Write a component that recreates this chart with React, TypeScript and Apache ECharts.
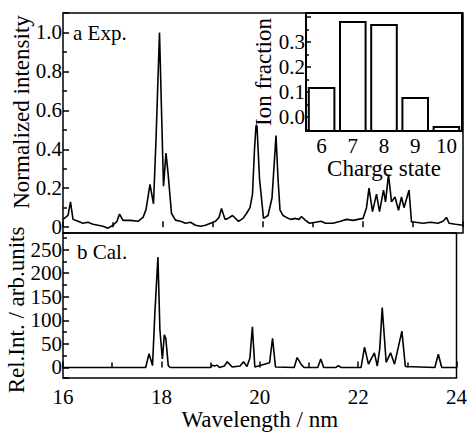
import React, { useEffect, useRef } from "react";
import * as echarts from "echarts";

// ---- data ----
const expWavelength = [
  16.0, 16.05, 16.1, 16.15, 16.2, 16.3, 16.4, 16.5, 16.6, 16.7, 16.8, 16.9, 17.0, 17.08, 17.13, 17.2,
  17.35, 17.5, 17.6, 17.66, 17.74, 17.81, 17.86, 17.93, 17.97, 18.01, 18.06, 18.1, 18.17, 18.25, 18.35,
  18.45, 18.55, 18.65, 18.75, 18.85, 18.95, 19.05, 19.12, 19.17, 19.24, 19.3, 19.39, 19.51, 19.6, 19.67,
  19.74, 19.79, 19.83, 19.86, 19.88, 19.93, 20.01, 20.1, 20.18, 20.26, 20.3, 20.34, 20.4, 20.47, 20.55,
  20.65, 20.72, 20.77, 20.85, 20.93, 21.05, 21.16, 21.25, 21.4, 21.55, 21.67, 21.8, 21.9, 22.0, 22.07,
  22.12, 22.19, 22.27, 22.33, 22.41, 22.45, 22.51, 22.57, 22.64, 22.71, 22.77, 22.82, 22.92, 22.97,
  23.05, 23.2, 23.35, 23.5, 23.6, 23.67, 23.72, 23.85, 24.0,
];
const expIntensity = [
  0.04, 0.05, 0.06, 0.13, 0.04, 0.03, 0.02, 0.025, 0.015, 0.01, 0.005, -0.005, 0.01, 0.03, 0.067, 0.035,
  0.035, 0.03, 0.05, 0.09, 0.22, 0.12, 0.45, 1.0, 0.6, 0.21, 0.38, 0.28, 0.07, 0.036, 0.03,
  0.02, 0.025, 0.01, 0.005, 0.01, 0.02, 0.03, 0.05, 0.096, 0.04, 0.045, 0.06, 0.03, 0.045, 0.07,
  0.1, 0.17, 0.4, 0.52, 0.52, 0.25, 0.045, 0.06, 0.15, 0.47, 0.25, 0.087, 0.06, 0.05, 0.04,
  0.045, 0.04, 0.055, 0.035, 0.02, 0.025, 0.03, 0.02, 0.02, 0.03, 0.04, 0.035, 0.04, 0.045, 0.1,
  0.2, 0.08, 0.17, 0.08, 0.19, 0.13, 0.27, 0.13, 0.155, 0.087, 0.155, 0.1, 0.19, 0.027,
  0.025, 0.02, 0.025, 0.02, 0.03, 0.05, 0.02, 0.015, 0.01,
];

const calWavelength = [
  16.0, 17.68, 17.75, 17.82, 17.87, 17.93, 17.97, 18.02, 18.06, 18.09, 18.14, 18.18, 19.0, 19.03, 19.08,
  19.13, 19.18, 19.28, 19.34, 19.44, 19.6, 19.67, 19.74, 19.8, 19.85, 19.9, 20.2, 20.26, 20.32, 20.7,
  20.76, 20.84, 20.9, 21.18, 21.24, 21.3, 21.55, 21.6, 21.65, 22.06, 22.13, 22.21, 22.33, 22.39, 22.44,
  22.49, 22.57, 22.66, 22.74, 22.89, 22.96, 23.56, 23.63, 23.7, 24.0,
];
const calIntensity = [
  0, 0, 29, 4, 120, 234, 80, 18, 69, 62, 4, 0, 0, 5, 3,
  5, 0, 3, 12, 1, 3, 12, 2, 20, 86, 1, 10, 62, 1, 0,
  21, 7, 0, 0, 18, 0, 0, 4, 0, 0, 43, 7, 31, 3, 40,
  127, 11, 31, 7, 77, 2, 0, 28, 0, 0,
];

const chargeStates = ["6", "7", "8", "9", "10"];
const ionFraction = [0.116, 0.38, 0.368, 0.076, -0.04];

const FONT = "Liberation Serif, Times New Roman, serif";

export default function App() {
  const ref = useRef<HTMLDivElement>(null);
  useEffect(() => {
    if (!ref.current) return;
    const chart = echarts.init(ref.current, undefined, { renderer: "svg" });
    const expData = expWavelength.map((x, i) => [x, expIntensity[i]]);
    const calData = calWavelength.map((x, i) => [x, calIntensity[i]]);
    const barData = ionFraction.map((v, i) => [i, v]);

    const tickStyle = { color: "#000", width: 1.5 };
    const labelBase = { color: "#000", fontFamily: FONT, fontSize: 21 };

    const xCommon = (grid: number, showLabel: boolean) => ({
      type: "value",
      gridIndex: grid,
      min: 16,
      max: 24,
      interval: 2,
      axisLine: { show: false },
      axisTick: { show: true, inside: true, length: 6, lineStyle: tickStyle },
      minorTick: { show: true, splitNumber: 2, length: 5, lineStyle: tickStyle },
      splitLine: { show: false },
      axisLabel: { show: showLabel, ...labelBase, margin: 8 },
    });

    const option: any = {
      animation: false,
      backgroundColor: "#fff",
      textStyle: { fontFamily: FONT },
      grid: [
        { left: 63, top: 13, width: 400, height: 220, show: true, borderColor: "#000", borderWidth: 1.5, backgroundColor: "transparent" },
        { left: 63, top: 233, width: 400, height: 150, show: true, borderColor: "#000", borderWidth: 1.5, backgroundColor: "transparent" },
        { left: 306, top: 13, width: 156, height: 118, show: true, borderColor: "#000", borderWidth: 2, backgroundColor: "#fff" },
      ],
      xAxis: [
        xCommon(0, false),
        {
          ...xCommon(1, true),
          name: "Wavelength / nm",
          nameLocation: "middle",
          nameGap: 21,
          nameTextStyle: { color: "#000", fontFamily: FONT, fontSize: 23 },
        },
        {
          type: "category",
          gridIndex: 2,
          data: chargeStates,
          axisLine: { show: false },
          axisTick: { show: false },
          axisLabel: { ...labelBase, margin: 4 },
          name: "Charge state",
          nameLocation: "middle",
          nameGap: 16,
          nameTextStyle: { color: "#000", fontFamily: FONT, fontSize: 23 },
        },
      ],
      yAxis: [
        {
          type: "value",
          gridIndex: 0,
          min: -0.03,
          max: 1.1,
          splitNumber: 5,
          axisLine: { show: false },
          axisTick: { show: true, inside: true, length: 6, lineStyle: tickStyle },
          minorTick: { show: true, splitNumber: 2, length: 4, lineStyle: tickStyle },
          splitLine: { show: false },
          axisLabel: {
            ...labelBase,
            margin: 1,
            formatter: (v: number) => (Math.abs(v) < 1e-9 ? "0" : v < 0 || v > 1.05 ? "" : v.toFixed(1)),
          },
        },
        {
          type: "value",
          gridIndex: 1,
          min: -22.5,
          max: 285,
          splitNumber: 5,
          axisLine: { show: false },
          axisTick: { show: true, inside: true, length: 6, lineStyle: tickStyle },
          minorTick: { show: true, splitNumber: 2, length: 4, lineStyle: tickStyle },
          splitLine: { show: false },
          axisLabel: {
            ...labelBase,
            margin: 1,
            formatter: (v: number) => (v < 0 || v > 260 ? "" : String(Math.round(v))),
          },
        },
        {
          type: "value",
          gridIndex: 2,
          min: -0.056,
          max: 0.416,
          splitNumber: 5,
          axisLine: { show: false },
          axisTick: { show: true, inside: true, length: 5, lineStyle: tickStyle },
          minorTick: { show: true, splitNumber: 2, length: 3, lineStyle: tickStyle },
          splitLine: { show: false },
          axisLabel: {
            ...labelBase,
            margin: 1,
            formatter: (v: number) => (v < -0.01 || v > 0.35 ? "" : v.toFixed(1)),
          },
          name: "Ion fraction",
          nameLocation: "middle",
          nameGap: 25,
          nameTextStyle: { color: "#000", fontFamily: FONT, fontSize: 23 },
        },
      ],
      series: [
        {
          type: "line",
          xAxisIndex: 0,
          yAxisIndex: 0,
          data: expData,
          symbol: "none",
          lineStyle: { color: "#000", width: 1.6 },
          z: 3,
        },
        {
          type: "line",
          xAxisIndex: 1,
          yAxisIndex: 1,
          data: calData,
          symbol: "none",
          lineStyle: { color: "#000", width: 1.6 },
          z: 3,
        },
        {
          type: "custom",
          xAxisIndex: 2,
          yAxisIndex: 2,
          data: barData,
          z: 5,
          renderItem: (params: any, api: any) => {
            const idx = api.value(0);
            const val = api.value(1);
            const top = api.coord([idx, val]);
            const bottom = params.coordSys.y + params.coordSys.height;
            const w = api.size([1, 0])[0] * 0.82;
            return {
              type: "rect",
              shape: { x: top[0] - w / 2, y: top[1], width: w, height: bottom - top[1] },
              style: { fill: "#fff", stroke: "#000", lineWidth: 2 },
            };
          },
        },
      ],
      graphic: [
        {
          type: "text",
          x: 21,
          y: 112,
          rotation: Math.PI / 2,
          style: {
            text: "Normalized intensity",
            font: `23px ${FONT}`,
            fill: "#000",
            align: "center",
            verticalAlign: "middle",
            textAlign: "center",
            textVerticalAlign: "middle",
          },
        },
        {
          type: "text",
          x: 16,
          y: 310,
          rotation: Math.PI / 2,
          style: {
            text: "Rel.Int. / arb.units",
            font: `23px ${FONT}`,
            fill: "#000",
            align: "center",
            verticalAlign: "middle",
            textAlign: "center",
            textVerticalAlign: "middle",
          },
        },
        {
          type: "text",
          x: 73,
          y: 33,
          style: {
            text: "a Exp.",
            font: `21px ${FONT}`,
            fill: "#000",
            align: "left",
            verticalAlign: "middle",
            textAlign: "left",
            textVerticalAlign: "middle",
          },
        },
        {
          type: "text",
          x: 77,
          y: 252,
          style: {
            text: "b Cal.",
            font: `21px ${FONT}`,
            fill: "#000",
            align: "left",
            verticalAlign: "middle",
            textAlign: "left",
            textVerticalAlign: "middle",
          },
        },
      ],
    };
    chart.setOption(option);
    return () => chart.dispose();
  }, []);
  return (
    <div
      ref={ref}
      style={{ position: "fixed", left: 0, top: 0, width: 470, height: 432, background: "#fff" }}
    />
  );
}
